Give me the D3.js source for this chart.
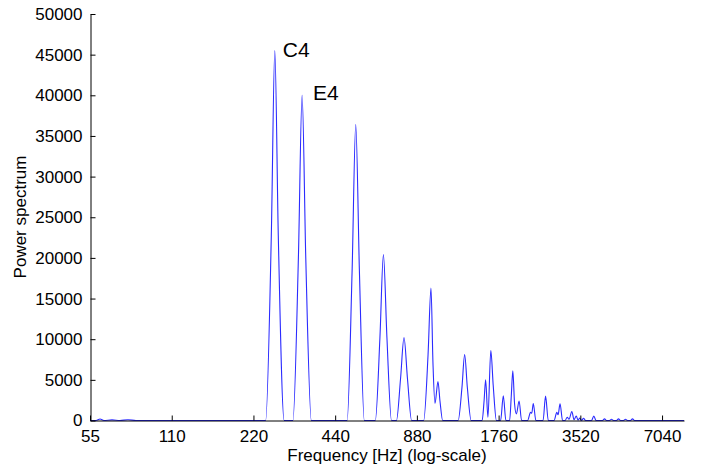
<!DOCTYPE html>
<html>
<head>
<meta charset="utf-8">
<script src="https://cdn.jsdelivr.net/npm/d3@7/dist/d3.min.js"></script>
<style>
  html, body { margin: 0; padding: 0; background: #fff; }
  svg { display: block; font-family: "Liberation Sans", Arial, Helvetica, sans-serif; }
</style>
</head>
<body>
<svg id="chart" width="706" height="468"></svg>
<script>
// Tick values for the two axes
const freqTicks = [55, 110, 220, 440, 880, 1760, 3520, 7040];
const powerTicks = [0, 5000, 10000, 15000, 20000, 25000, 30000, 35000, 40000, 45000, 50000];

// Power spectrum of a C4 + E4 chord: frequency (Hz) and power along the curve
const spectrumHz = [
  55,
  57.9, 59.9, 61.9, 66.3, 70.9, 75.9, 81.2,
  244.0, 256.0, 263.7, 271.6, 285.5,
  307.5, 322.1, 332.4, 342.9, 359.5,
  487.0, 507.8, 523.9, 540.6, 563.5,
  618.5, 643.2, 662.5, 682.5, 709.5,
  740.0, 765.9, 788.9, 812.6, 841.5,
  932.2, 967.6, 991.7, 1008.7, 1025.9, 1052.3, 1070.3, 1095.1,
  1248.7, 1289.6, 1319.5, 1350.0, 1394.2,
  1530.3, 1556.5, 1576.4, 1607.4, 1647.4, 1681.3, 1727.4,
  1790.1, 1831.5, 1872.3,
  1932.0, 1959.9, 1985.1, 2015.6, 2046.5, 2093.9, 2138.8,
  2250.3, 2308.2, 2331.8, 2361.6, 2414.4,
  2566.1, 2621.0, 2681.7,
  2816.9, 2884.5, 2914.0, 2963.7, 3027.2,
  3092.0, 3150.0, 3198.6, 3275.4, 3336.9, 3400.0, 3452.1, 3505.0, 3555.9, 3616.8, 3678.4,
  3870.6, 3946.6, 4020.9,
  4248.6, 4321.2, 4395.0, 4508.1, 4585.2, 4663.9, 4783.7, 4865.3, 4948.4,
  5075.8, 5162.8, 5250.8, 5386.0, 5478.5, 5571.8,
  8480
];
const spectrumPower = [
  0,
  0, 180, 0, 80, 0, 100, 0,
  0, 22750, 45500, 22750, 0,
  0, 20000, 40000, 20000, 0,
  0, 18200, 36400, 18200, 0,
  0, 10200, 20400, 10200, 0,
  0, 5100, 10200, 5100, 0,
  0, 8150, 16300, 7000, 2100, 4800, 2400, 0,
  0, 4050, 8100, 4050, 0,
  0, 2500, 5000, 400, 8600, 4300, 0,
  0, 3050, 0,
  0, 3050, 6100, 2000, 800, 2400, 0,
  0, 1000, 900, 2100, 0,
  0, 3000, 0,
  0, 1000, 700, 2050, 0,
  0, 400, 150, 1100, 100, 550, 50, 300, 0, 270, 0,
  0, 550, 0,
  0, 200, 0, 0, 150, 0, 0, 200, 0,
  0, 150, 0, 0, 200, 0,
  0
];

// Annotated notes (fundamental peaks)
const noteNames = ["C4", "E4"];
const noteHz = [263.7, 332.4];
const notePower = [45500, 40000];

const svg = d3.select("#chart");

const x = d3.scaleLog().domain([55, 8480]).range([90, 684]);
const y = d3.scaleLinear().domain([0, 50000]).range([420.5, 14]);

const points = spectrumHz.map((f, i) => [f, spectrumPower[i]]);

const line = d3.line()
  .x(d => x(d[0]))
  .y(d => y(d[1]))
  .curve(d3.curveMonotoneX);

svg.append("path")
  .datum(points)
  .attr("fill", "none")
  .attr("stroke", "#2b2bff")
  .attr("stroke-width", 1.1)
  .attr("stroke-linejoin", "round")
  .attr("d", line);

// Axes drawn above the curve, MATLAB-style inward ticks
const xAxis = svg.append("g")
  .attr("transform", "translate(0,420.5)")
  .call(d3.axisBottom(x)
    .tickValues(freqTicks)
    .tickFormat(d3.format("d"))
    .tickSizeInner(-5)
    .tickSizeOuter(0)
    .tickPadding(9));

const yAxis = svg.append("g")
  .attr("transform", "translate(90.5,0)")
  .call(d3.axisLeft(y)
    .tickValues(powerTicks)
    .tickFormat(d3.format("d"))
    .tickSizeInner(-5)
    .tickSizeOuter(0)
    .tickPadding(8));

[xAxis, yAxis].forEach(g => {
  g.selectAll("path.domain").attr("stroke", "#000").attr("stroke-width", 1);
  g.selectAll(".tick line").attr("stroke", "#000").attr("stroke-width", 1);
  g.selectAll(".tick text")
    .attr("fill", "#000")
    .style("font-size", "17px")
    .style("font-family", "'Liberation Sans', Arial, Helvetica, sans-serif");
});

// Axis titles
svg.append("text")
  .attr("x", 387)
  .attr("y", 461)
  .attr("text-anchor", "middle")
  .style("font-size", "17px")
  .attr("fill", "#000")
  .text("Frequency [Hz] (log-scale)");

svg.append("text")
  .attr("transform", "translate(26,217) rotate(-90)")
  .attr("text-anchor", "middle")
  .style("font-size", "17px")
  .attr("fill", "#000")
  .text("Power spectrum");

// Note labels beside their peaks
const labelDx = [8, 11];
const labelDy = [6, 5];
svg.selectAll("text.note")
  .data(noteNames)
  .join("text")
  .attr("class", "note")
  .attr("x", (d, i) => x(noteHz[i]) + labelDx[i])
  .attr("y", (d, i) => y(notePower[i]) + labelDy[i])
  .style("font-size", "21px")
  .attr("fill", "#000")
  .text(d => d);
</script>
</body>
</html>
